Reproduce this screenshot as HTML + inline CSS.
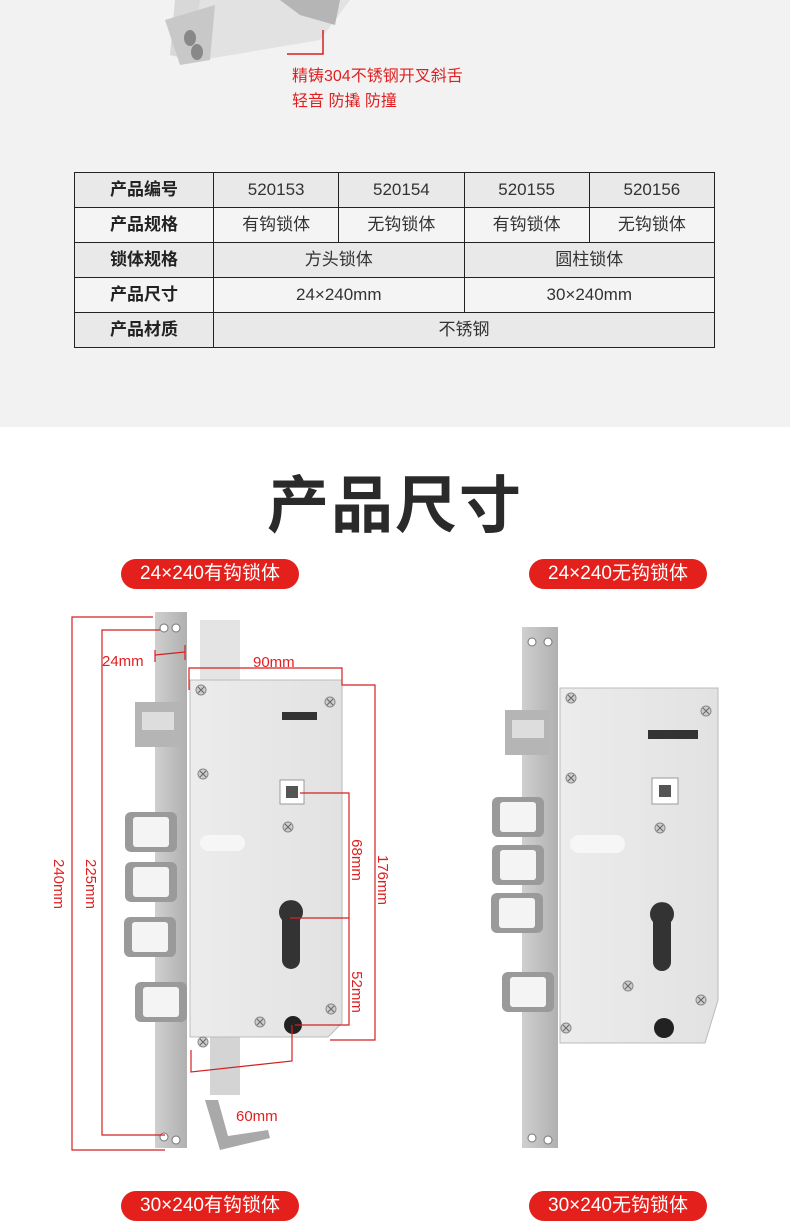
<!DOCTYPE html>
<html><head><meta charset="utf-8"><style>
body{margin:0;width:790px;height:1232px;position:relative;background:#fff;font-family:"Liberation Sans","Noto Sans CJK SC",sans-serif;overflow:hidden}
.top{position:absolute;left:0;top:0;width:790px;height:427px;background:#f2f2f2}
table{position:absolute;left:74px;top:172px;width:641px;border-collapse:collapse;font-size:17px;color:#333}
td{border:1.5px solid #222;height:34px;text-align:center;padding:0;line-height:34px}
td.h{font-weight:bold;width:138px;color:#222}
tr.g td{background:#e9e9e9}
tr.w td{background:#f4f4f4}
.pill{position:absolute;background:#e3201b;color:#fff;font-size:19px;height:30px;line-height:30px;border-radius:15px;text-align:center;width:178px}
.title{position:absolute;left:0;width:790px;top:455px;text-align:center;font-size:62px;font-weight:bold;color:#2a2a2a;letter-spacing:2px}
.red{position:absolute;color:#e02020;font-size:16px}
</style></head><body>
<div class="top"></div>
<svg style="position:absolute;left:0;top:0" width="790" height="140">
<polygon points="175,0 215,0 190,60 170,55" fill="#d8d8d8"/>
<polygon points="200,0 350,0 320,40 190,62" fill="#e2e2e2"/>
<polygon points="165,20 215,5 210,60 180,65" fill="#c8c8c8"/>
<ellipse cx="190" cy="38" rx="6" ry="8" fill="#888"/><ellipse cx="197" cy="52" rx="6" ry="8" fill="#888"/>
<polygon points="280,0 340,0 335,25 300,15" fill="#b5b5b5"/>
<polyline points="323,30 323,54 287,54" fill="none" stroke="#d42020" stroke-width="1.5"/>
</svg>
<div class="red" style="left:292px;top:62px">精铸304不锈钢开叉斜舌</div>
<div class="red" style="left:292px;top:87px">轻音 防撬 防撞</div>
<table>
<tr class="g"><td class="h">产品编号</td><td>520153</td><td>520154</td><td>520155</td><td>520156</td></tr>
<tr class="w"><td class="h">产品规格</td><td>有钩锁体</td><td>无钩锁体</td><td>有钩锁体</td><td>无钩锁体</td></tr>
<tr class="g"><td class="h">锁体规格</td><td colspan="2">方头锁体</td><td colspan="2">圆柱锁体</td></tr>
<tr class="w"><td class="h">产品尺寸</td><td colspan="2">24×240mm</td><td colspan="2">30×240mm</td></tr>
<tr class="g"><td class="h">产品材质</td><td colspan="4">不锈钢</td></tr>
</table>
<div class="title">产品尺寸</div>
<div class="pill" style="left:121px;top:559px">24×240有钩锁体</div>
<div class="pill" style="left:529px;top:559px">24×240无钩锁体</div>
<div class="pill" style="left:121px;top:1191px">30×240有钩锁体</div>
<div class="pill" style="left:529px;top:1191px">30×240无钩锁体</div>
<svg style="position:absolute;left:0;top:0" width="790" height="1232">
<defs><linearGradient id="fp" x1="0" x2="1"><stop offset="0" stop-color="#cfcfcf"/><stop offset="1" stop-color="#b0b0b0"/></linearGradient>
<linearGradient id="bd" x1="0" x2="1"><stop offset="0" stop-color="#ececec"/><stop offset="1" stop-color="#e2e2e2"/></linearGradient>
<g id="bolt"><rect x="0" y="0" width="52" height="40" rx="6" fill="#9a9a9a"/><rect x="8" y="5" width="36" height="30" rx="3" fill="#f4f4f4"/></g>
<g id="sc"><circle r="5" fill="#ccc" stroke="#888"/><path d="M-3,-3 3,3 M3,-3 -3,3" stroke="#666"/></g>
</defs>
<!-- left lock -->
<polygon points="200,620 240,620 240,690 200,690" fill="#e4e4e4"/>
<rect x="210" y="1035" width="30" height="60" fill="#d4d4d4"/>
<path d="M205,1100 l15,50 l50,-12 l-2,-8 l-40,6 l-10,-36z" fill="#a9a9a9"/>
<polygon points="190,680 342,680 342,1023 328,1037 190,1037" fill="url(#bd)" stroke="#bbb"/>
<rect x="155" y="612" width="32" height="536" fill="url(#fp)"/>
<circle cx="164" cy="628" r="4" fill="#fff" stroke="#777"/><circle cx="176" cy="628" r="4" fill="#fff" stroke="#777"/>
<circle cx="164" cy="1137" r="4" fill="#fff" stroke="#777"/><circle cx="176" cy="1140" r="4" fill="#fff" stroke="#777"/>
<rect x="135" y="702" width="45" height="45" fill="#b5b5b5"/><rect x="142" y="712" width="32" height="18" fill="#ddd"/>
<use href="#bolt" x="125" y="812"/><use href="#bolt" x="125" y="862"/><use href="#bolt" x="124" y="917"/><use href="#bolt" x="135" y="982"/>
<use href="#sc" x="201" y="690"/><use href="#sc" x="330" y="702"/><use href="#sc" x="203" y="774"/><use href="#sc" x="203" y="1042"/><use href="#sc" x="331" y="1009"/><use href="#sc" x="260" y="1022"/><use href="#sc" x="288" y="827"/>
<rect x="280" y="780" width="24" height="24" fill="#fff" stroke="#999"/><rect x="286" y="786" width="12" height="12" fill="#555"/>
<path d="M282,920 a12,12 0 1 1 18,0 l0,40 a6,6 0 0 1 -18,0z" fill="#333"/>
<circle cx="293" cy="1025" r="9" fill="#222"/>
<rect x="200" y="835" width="45" height="16" rx="8" fill="#f6f6f6"/>
<rect x="282" y="712" width="35" height="8" fill="#333"/>
<g fill="none" stroke="#d42020" stroke-width="1.2">
<polyline points="153,617 72,617 72,1150 165,1150"/>
<polyline points="160,630 102,630 102,1135 165,1135"/>
<line x1="155" y1="655" x2="185" y2="652"/><line x1="155" y1="650" x2="155" y2="662"/><line x1="185" y1="645" x2="185" y2="660"/>
<polyline points="189,690 189,668 342,668 342,685 375,685 375,1040 330,1040"/>
<polyline points="300,793 349,793 349,1025 295,1025"/><line x1="290" y1="918" x2="349" y2="918"/>
<polyline points="292,1025 292,1061 191,1072 191,1050"/>
</g>
<g fill="#e02020" font-size="15" font-family="Liberation Sans,sans-serif">
<text x="102" y="666">24mm</text><text x="253" y="667">90mm</text><text x="236" y="1121">60mm</text>
<text transform="translate(54,884) rotate(90)" text-anchor="middle">240mm</text>
<text transform="translate(86,884) rotate(90)" text-anchor="middle">225mm</text>
<text transform="translate(352,860) rotate(90)" text-anchor="middle">68mm</text>
<text transform="translate(378,880) rotate(90)" text-anchor="middle">176mm</text>
<text transform="translate(352,992) rotate(90)" text-anchor="middle">52mm</text>
</g>
<!-- right lock -->
<polygon points="560,688 718,688 718,1000 705,1043 560,1043" fill="url(#bd)" stroke="#bbb"/>
<rect x="522" y="627" width="36" height="521" fill="url(#fp)"/>
<circle cx="532" cy="642" r="4" fill="#fff" stroke="#777"/><circle cx="548" cy="642" r="4" fill="#fff" stroke="#777"/>
<circle cx="532" cy="1138" r="4" fill="#fff" stroke="#777"/><circle cx="548" cy="1140" r="4" fill="#fff" stroke="#777"/>
<rect x="505" y="710" width="45" height="45" fill="#b5b5b5"/><rect x="512" y="720" width="32" height="18" fill="#ddd"/>
<use href="#bolt" x="492" y="797"/><use href="#bolt" x="492" y="845"/><use href="#bolt" x="491" y="893"/><use href="#bolt" x="502" y="972"/>
<use href="#sc" x="571" y="698"/><use href="#sc" x="706" y="711"/><use href="#sc" x="571" y="778"/><use href="#sc" x="566" y="1028"/><use href="#sc" x="701" y="1000"/><use href="#sc" x="628" y="986"/><use href="#sc" x="660" y="828"/>
<rect x="652" y="778" width="26" height="26" fill="#fff" stroke="#999"/><rect x="659" y="785" width="12" height="12" fill="#555"/>
<path d="M653,922 a12,12 0 1 1 18,0 l0,40 a6,6 0 0 1 -18,0z" fill="#333"/>
<circle cx="664" cy="1028" r="10" fill="#222"/>
<rect x="570" y="835" width="55" height="18" rx="9" fill="#f6f6f6"/>
<rect x="648" y="730" width="50" height="9" fill="#333"/>
</svg>
</body></html>
